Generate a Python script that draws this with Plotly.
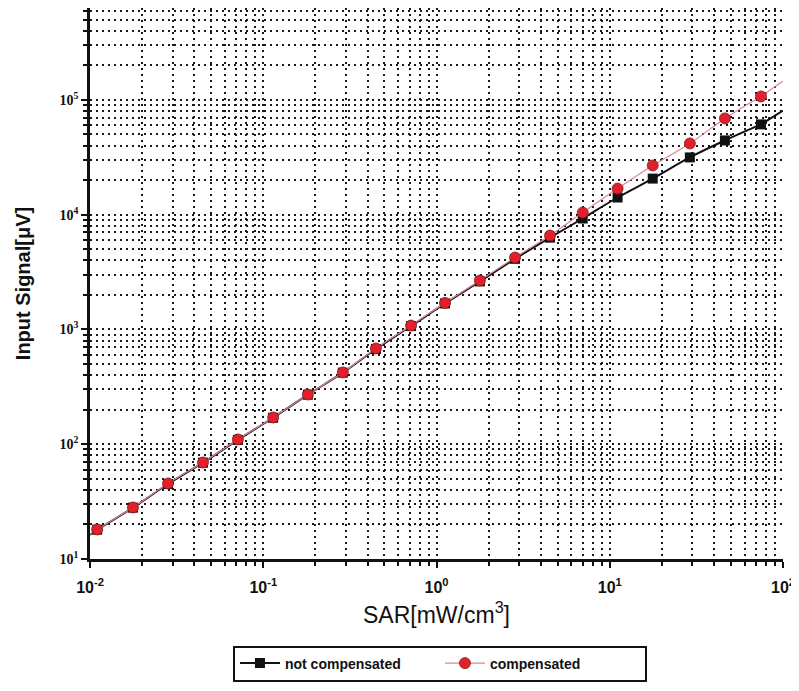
import plotly.graph_objects as go

# SAR values (mW/cm^3)
sar = [0.011, 0.0177, 0.0282, 0.0449, 0.0714, 0.114, 0.181, 0.288, 0.447, 0.713,
       1.12, 1.78, 2.84, 4.52, 6.98, 11.1, 17.7, 29.0, 46.2, 74.6]
# Input signal (uV)
not_comp = [18, 28, 45, 69, 109, 170, 270, 420, 675, 1070,
            1683, 2620, 4120, 6300, 9250, 14100, 20600, 31500, 44300, 61100]
comp = [18.1, 28.1, 45.5, 69.3, 110, 171, 271, 422, 683, 1081,
        1700, 2667, 4227, 6576, 10420, 16870, 26800, 41700, 68900, 107000]

# curve extensions to the axis limits
ext_start_x = [0.01, 0.011]
nc_start_y = [16.3, 18]
c_start_y = [16.4, 18.1]
ext_end_x = [74.6, 100]
nc_end_y = [61100, 80500]
c_end_y = [107000, 146000]

x_tickvals = [0.01, 0.1, 1, 10, 100]
x_ticktext = ["10<sup>-2</sup>", "10<sup>-1</sup>", "10<sup>0</sup>", "10<sup>1</sup>", "10<sup>2</sup>"]
y_tickvals = [10, 100, 1000, 10000, 100000]
y_ticktext = ["10<sup>1</sup>", "10<sup>2</sup>", "10<sup>3</sup>", "10<sup>4</sup>", "10<sup>5</sup>"]

BLACK = "#111111"
RED = "#e3202a"
PINK = "#d9879a"

fig = go.Figure()

fig.add_trace(go.Scatter(x=ext_start_x, y=nc_start_y, mode="lines",
                         line=dict(color=BLACK, width=2), showlegend=False, hoverinfo="skip"))
fig.add_trace(go.Scatter(x=ext_end_x, y=nc_end_y, mode="lines",
                         line=dict(color=BLACK, width=2), showlegend=False, hoverinfo="skip"))
fig.add_trace(go.Scatter(x=sar, y=not_comp, mode="lines+markers", name="not compensated",
                         line=dict(color=BLACK, width=2, shape="spline"),
                         marker=dict(symbol="square", size=10, color=BLACK)))

fig.add_trace(go.Scatter(x=ext_start_x, y=c_start_y, mode="lines",
                         line=dict(color=PINK, width=1.2), showlegend=False, hoverinfo="skip"))
fig.add_trace(go.Scatter(x=ext_end_x, y=c_end_y, mode="lines",
                         line=dict(color=PINK, width=1.2), showlegend=False, hoverinfo="skip"))
fig.add_trace(go.Scatter(x=sar, y=comp, mode="lines+markers", name="compensated",
                         line=dict(color=PINK, width=1.2, shape="spline"),
                         marker=dict(symbol="circle", size=11, color=RED,
                                     line=dict(color="#7a1a1a", width=0.8))))

GRID = dict(showgrid=True, gridcolor="#1a1a1a", gridwidth=1.8, griddash="2px,4px")
MINOR = dict(dtick="D1", ticks="outside", ticklen=4, tickcolor=BLACK, tickwidth=1.5, **GRID)

fig.update_xaxes(type="log", range=[-2, 2], automargin=False,
                 tickvals=x_tickvals, ticktext=x_ticktext,
                 tickfont=dict(family="Arial", size=16, color="#111", weight="bold"),
                 ticklabelstandoff=6,
                 ticks="outside", ticklen=6, tickwidth=2, tickcolor=BLACK,
                 showline=True, linecolor=BLACK, linewidth=2.5,
                 minor=MINOR,
                 title=dict(text="SAR[mW/cm<sup>3</sup>]", font=dict(family="Arial", size=23, color="#111"),
                            standoff=12),
                 zeroline=False, **GRID)
fig.update_yaxes(type="log", range=[1, 5.8], automargin=False,
                 tickvals=y_tickvals, ticktext=y_ticktext,
                 tickfont=dict(family="Liberation Serif", size=14, color="#111", weight="bold"),
                 ticks="outside", ticklen=6, tickwidth=2, tickcolor=BLACK,
                 showline=True, linecolor=BLACK, linewidth=2.5,
                 minor=MINOR,
                 title=dict(text="Input Signal[μV]", font=dict(family="Arial", size=20, color="#111", weight="bold"),
                            standoff=24),
                 zeroline=False, **GRID)

fig.update_layout(
    width=791, height=683,
    margin=dict(l=82, r=16, t=0, b=132, autoexpand=False),
    plot_bgcolor="white", paper_bgcolor="white",
    legend=dict(orientation="h", x=0.505, xanchor="center", y=-0.157, yanchor="top",
                bordercolor=BLACK, borderwidth=2, bgcolor="white",
                font=dict(family="Arial", size=14, color="#111", weight="bold"),
                entrywidth=150, entrywidthmode="pixels", itemwidth=40),
)

fig.write_html("out.html")
